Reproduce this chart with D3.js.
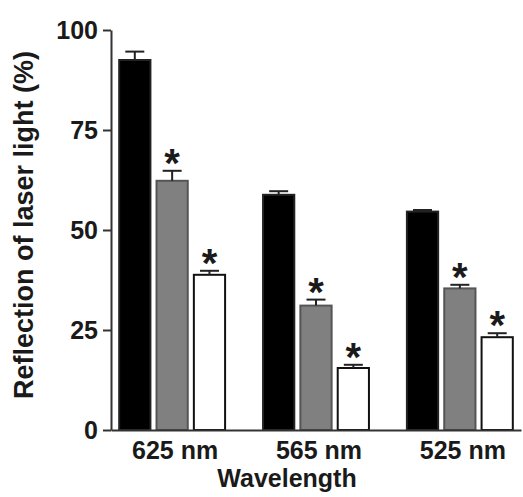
<!DOCTYPE html>
<html>
<head>
<meta charset="utf-8">
<script src="https://cdn.jsdelivr.net/npm/d3@7"></script>
<style>
  body { margin: 0; background: #fff; }
  text { font-family: "Liberation Sans", Arial, sans-serif; font-weight: bold; fill: #1a1a1a; }
</style>
</head>
<body>
<svg id="chart" width="523" height="497"></svg>
<script>
var wavelengths = ["625 nm", "565 nm", "525 nm"],
	series = ["black", "gray", "white"],
	meanBlack = [92.5, 58.8, 54.6],
	meanGray = [62.3, 31.1, 35.4],
	meanWhite = [38.8, 15.5, 23.2],
	semBlack = [2.1, 0.9, 0.4],
	semGray = [2.5, 1.5, 0.9],
	semWhite = [1.0, 0.8, 1.0],
	starGray = [true, true, true],
	starWhite = [true, true, true],
	yTicks = [0, 25, 50, 75, 100];

var svg = d3.select("#chart"),
	fills = {black: "#000", gray: "#808080", white: "#fff"},
	strokes = {black: "#222", gray: "#555", white: "#111"};

var y = d3.scaleLinear().domain([0, 100]).range([430, 30]),
	x = d3.scaleBand().domain(wavelengths).range([111, 521]).paddingInner(0.25).paddingOuter(0.05),
	xs = d3.scaleBand().domain(series).range([0, x.bandwidth()]).paddingInner(0.11);

// build rows from the arrays
var rows = [];
wavelengths.forEach(function(w, i) {
	rows.push({w: w, s: "black", v: meanBlack[i], e: semBlack[i], star: false});
	rows.push({w: w, s: "gray", v: meanGray[i], e: semGray[i], star: starGray[i]});
	rows.push({w: w, s: "white", v: meanWhite[i], e: semWhite[i], star: starWhite[i]});
});

function bx(d) { return x(d.w) + xs(d.s); }
function cx(d) { return bx(d) + xs.bandwidth() / 2; }

// bars
svg.append("g").selectAll("rect")
	.data(rows)
	.enter().append("rect")
	.attr("x", function(d) { return bx(d) + 1; })
	.attr("y", function(d) { return y(d.v); })
	.attr("width", xs.bandwidth() - 2)
	.attr("height", function(d) { return y(0) - y(d.v); })
	.attr("fill", function(d) { return fills[d.s]; })
	.attr("stroke", function(d) { return strokes[d.s]; })
	.attr("stroke-width", 2);

// error bars (upper only)
var err = svg.append("g").attr("stroke", "#222").attr("stroke-width", 2);
err.selectAll("line.v")
	.data(rows)
	.enter().append("line")
	.attr("class", "v")
	.attr("x1", cx).attr("x2", cx)
	.attr("y1", function(d) { return y(d.v); })
	.attr("y2", function(d) { return y(d.v + d.e); });
err.selectAll("line.c")
	.data(rows)
	.enter().append("line")
	.attr("class", "c")
	.attr("x1", function(d) { return cx(d) - 9.5; })
	.attr("x2", function(d) { return cx(d) + 9.5; })
	.attr("y1", function(d) { return y(d.v + d.e); })
	.attr("y2", function(d) { return y(d.v + d.e); });

// significance stars
svg.append("g").selectAll("text")
	.data(rows.filter(function(d) { return d.star; }))
	.enter().append("text")
	.attr("x", cx)
	.attr("y", function(d) { return y(d.v + d.e) + 6; })
	.attr("text-anchor", "middle")
	.style("font-size", "40px")
	.text("*");

// y axis
var yAxis = svg.append("g")
	.attr("transform", "translate(111,0)")
	.call(d3.axisLeft(y).tickValues(yTicks).tickSize(8).tickPadding(5).tickSizeOuter(0));
yAxis.select(".domain").attr("stroke", "#333").attr("stroke-width", 2);
yAxis.selectAll(".tick line").attr("stroke", "#333").attr("stroke-width", 2);
yAxis.selectAll(".tick text").style("font-size", "25px").attr("fill", "#1a1a1a");

// x axis
var xAxis = svg.append("g")
	.attr("transform", "translate(0,430)")
	.call(d3.axisBottom(x).tickSize(0).tickPadding(11).tickSizeOuter(0));
xAxis.select(".domain").attr("stroke", "#333").attr("stroke-width", 2);
xAxis.selectAll(".tick text").style("font-size", "25px").attr("fill", "#1a1a1a")
	.attr("dx", 3);

// titles
svg.append("text")
	.attr("x", 287).attr("y", 487)
	.attr("text-anchor", "middle")
	.style("font-size", "25px")
	.text("Wavelength");

svg.append("text")
	.attr("transform", "translate(33,225) rotate(-90)")
	.attr("text-anchor", "middle")
	.style("font-size", "27px")
	.text("Reflection of laser light (%)");
</script>
</body>
</html>
